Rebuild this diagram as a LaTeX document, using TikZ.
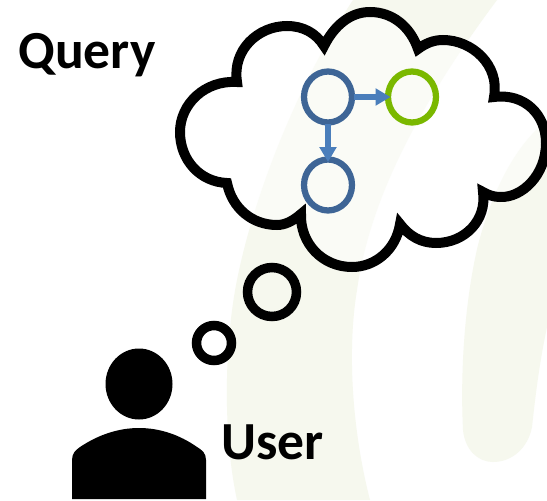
\documentclass[tikz,border=0pt]{standalone}
\usepackage{fontspec}
\setmainfont{Carlito}
\usetikzlibrary{arrows.meta,shapes.geometric}
\definecolor{wash}{HTML}{F6F8EE}
\definecolor{graphblue}{HTML}{3E6596}
\definecolor{arrowblue}{HTML}{4A7EBB}
\definecolor{limegreen}{HTML}{7AB800}
\tikzset{
  x=0.02cm,y=-0.02cm,
  washband/.style={fill=wash,draw=none},
  blobline/.style={draw=black,line width=0.2cm,line join=miter},
  graphnode/.style={ellipse,draw=graphblue,line width=0.125cm,minimum width=0.96cm,minimum height=1.02cm,inner sep=0pt,outer sep=0pt},
  targetnode/.style={graphnode,draw=limegreen},
  linkarrow/.style={draw=arrowblue,line width=0.12cm,-{Triangle[length=0.3cm,width=0.33cm]},shorten >=-0.05cm,shorten <=0.03cm},
  bubble/.style={circle,draw=black,line width=0.19cm,inner sep=0pt,outer sep=0pt},
  bigtext/.style={font=\fontsize{30.5pt}{32pt}\selectfont\bfseries,text=black,anchor=base west,inner sep=0pt},
}
\begin{document}
\begin{tikzpicture}
\clip (0,0) rectangle (547,500);
\fill[white] (0,0) rectangle (547,500);
% watermark bands
\path[washband] (353,0) .. controls (300,80) and (255,190) .. (237,280)
  .. controls (225,340) and (222,430) .. (237,500)
  -- (370,500) .. controls (352,430) and (347,350) .. (357,290)
  .. controls (367,220) and (400,130) .. (497,0) -- cycle;
\path[washband] (547,120) .. controls (510,150) and (490,200) .. (478,245)
  .. controls (465,300) and (460,370) .. (463,430)
  .. controls (465,450) and (478,462) .. (493,462)
  .. controls (512,462) and (528,448) .. (532,427)
  .. controls (536,390) and (540,360) .. (547,327) -- cycle;
% cloud
\path[fill=white,fill opacity=.5,blobline] (237,82)
  .. controls (232,50) and (258,26) .. (287,26)
  .. controls (303,26) and (316,33) .. (324,46)
  .. controls (334,26) and (350,12) .. (370,12)
  .. controls (392,12) and (410,26) .. (418,49)
  .. controls (426,43) and (434,40) .. (443,40)
  .. controls (472,40) and (500,65) .. (494,97)
  .. controls (525,93) and (546,115) .. (546,143)
  .. controls (546,175) and (522,198) .. (500,197)
  .. controls (494,197) and (488,195) .. (483,192)
  .. controls (487,220) and (465,243) .. (436,243)
  .. controls (421,243) and (409,236) .. (400,224)
  .. controls (396,250) and (375,267) .. (352,267)
  .. controls (322,267) and (300,243) .. (301,214)
  .. controls (293,221) and (285,225) .. (277,225)
  .. controls (252,225) and (232,208) .. (227,183)
  .. controls (200,182) and (180,160) .. (180,132)
  .. controls (180,104) and (205,80) .. (237,82) -- cycle;
% thought bubbles
\node[bubble,minimum size=0.98cm] (bigbubble) at (272,292) {};
\node[bubble,minimum size=0.7cm] (smallbubble) at (214,343) {};
% query graph
\node[graphnode] (root) at (328,97) {};
\node[targetnode] (target) at (412,97) {};
\node[graphnode] (child) at (328,185) {};
\draw[linkarrow] (root) -- (target);
\draw[linkarrow] (root) -- (child);
% user icon
\fill[black] (139,384) ellipse [x radius=33.5,y radius=35.5];
\fill[black] (72,499) -- (72,460) .. controls (72,453) and (76,450) .. (80,447)
  .. controls (98,435) and (118,428) .. (139,428)
  .. controls (160,428) and (180,435) .. (197,447)
  .. controls (202,450) and (206,453) .. (206,460) -- (206,499) -- cycle;
% labels
\node[bigtext] (querylabel) at (18,69) {Query};
\node[bigtext] (userlabel) at (221,459) {User};
\end{tikzpicture}
\end{document}
